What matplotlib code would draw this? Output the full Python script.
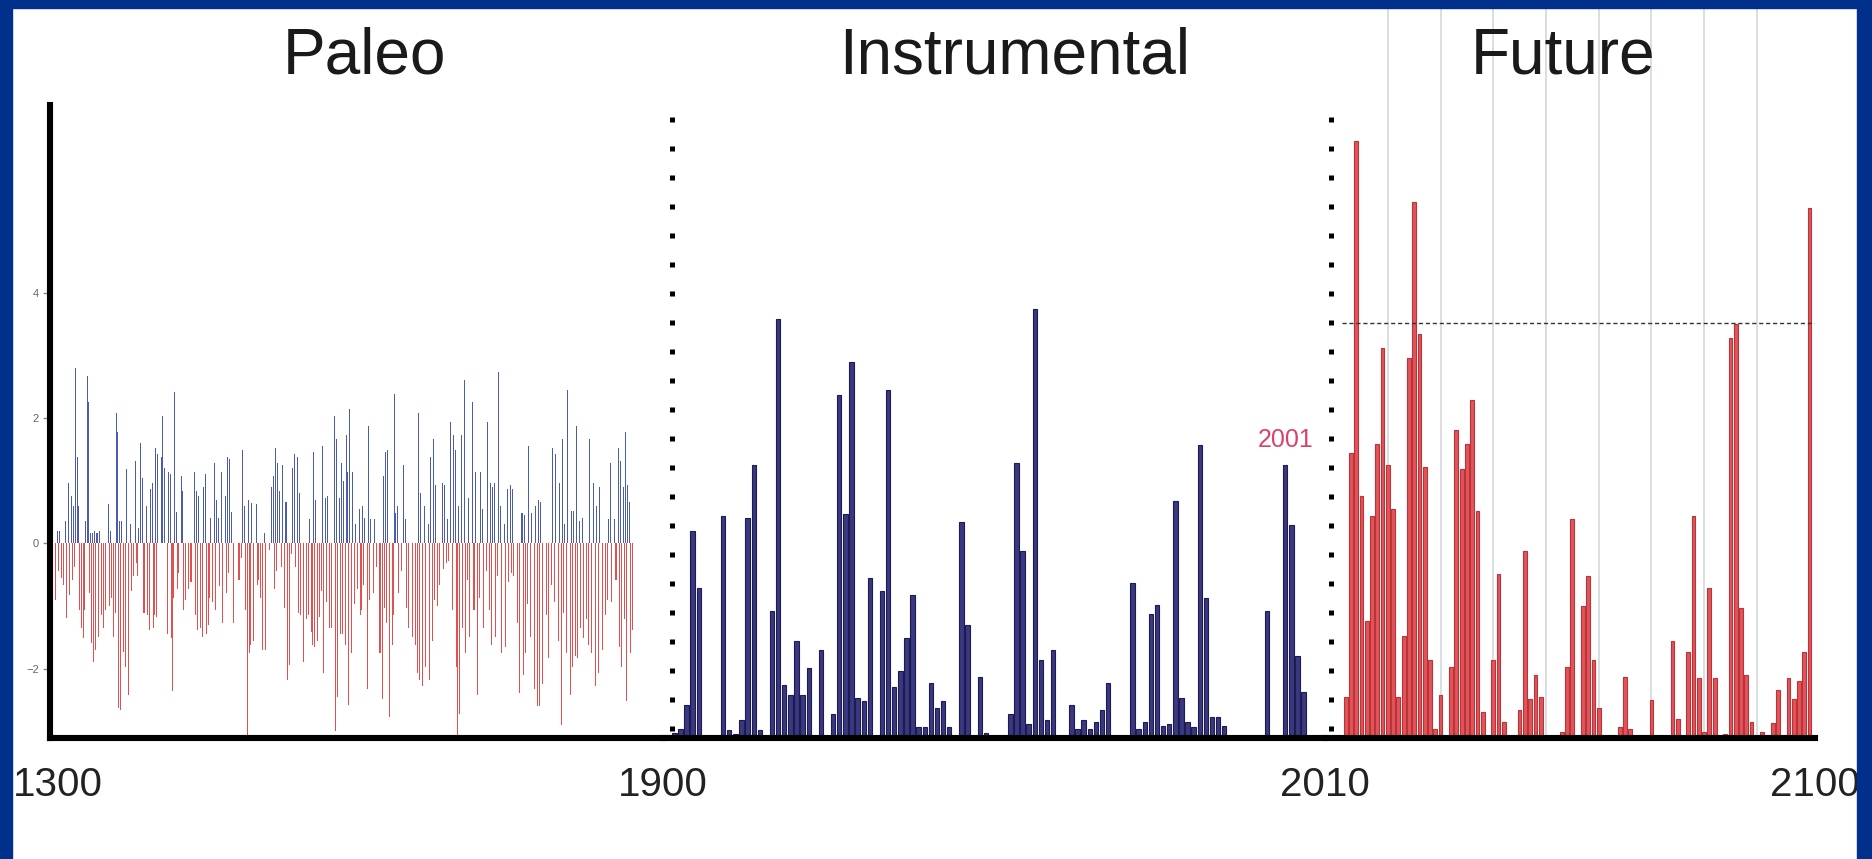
import matplotlib
matplotlib.use("Agg")
import matplotlib.pyplot as plt
import matplotlib.transforms as mtransforms
from matplotlib import font_manager
from matplotlib.patches import Rectangle

plt.rcParams['font.family'] = ['Liberation Sans', 'DejaVu Sans']

# narrow face for the year labels if it is there
_names = {f.name for f in font_manager.fontManager.ttflist}
if 'Liberation Sans Narrow' in _names:
    year_font, year_size = 'Liberation Sans Narrow', 34
else:
    year_font, year_size = 'Liberation Sans', 29

# ---- data ----
# paleo reconstruction 1300-1900 (positive = blue, negative = red)
warm_years = [1307,1309,1315,1318,1321,1323,1325,1327,1328,1335,
              1337,1338,1340,1342,1344,1346,1348,1357,1359,1365,
              1366,1368,1370,1375,1379,1384,1387,1389,1391,1394,
              1398,1400,1403,1405,1409,1410,1412,1416,1418,1422,
              1424,1429,1430,1441,1443,1445,1450,1452,1457,1461,
              1463,1465,1468,1472,1474,1476,1478,1488,1490,1494,
              1497,1502,1510,1517,1519,1521,1523,1525,1528,1531,
              1537,1539,1542,1544,1554,1558,1560,1567,1570,1572,
              1578,1580,1583,1585,1587,1590,1591,1593,1596,1599,
              1603,1606,1608,1612,1614,1618,1626,1628,1630,1637,
              1638,1640,1646,1648,1661,1663,1667,1670,1672,1675,
              1677,1684,1686,1689,1692,1695,1697,1700,1703,1706,
              1710,1714,1716,1721,1723,1728,1731,1733,1735,1739,
              1741,1745,1748,1751,1753,1762,1764,1768,1771,1775,
              1778,1780,1792,1795,1799,1802,1804,1807,1810,1812,
              1815,1818,1821,1828,1832,1835,1838,1847,1849,1853,
              1856,1858,1861,1863,1865,1867]
warm_vals = [0.2,0.2,0.35,0.97,0.76,0.6,2.8,1.38,0.6,0.35,
             2.67,2.25,0.17,0.17,0.2,0.17,0.2,0.62,0.2,2.08,
             1.77,0.35,0.35,1.18,0.3,1.31,0.25,1.6,1.04,0.6,
             0.86,0.97,1.52,1.42,1.38,2.04,1.21,1.14,1.11,2.42,
             0.5,1.07,0.83,1.14,0.83,0.76,0.9,1.11,0.4,1.28,
             0.69,0.4,1.14,0.76,1.38,1.35,0.5,1.49,0.6,0.69,
             0.65,0.62,0.17,0.9,1.07,1.52,1.28,0.83,1.25,0.66,
             1.21,1.42,1.38,0.8,0.38,1.45,0.69,1.56,0.73,0.76,
             2.04,1.66,0.73,1.28,1.0,1.73,1.14,2.14,1.14,0.3,
             0.55,0.6,0.4,1.87,0.38,0.38,1.07,1.45,1.49,2.39,
             0.48,0.6,1.25,0.38,2.08,0.8,0.6,0.3,1.38,1.66,
             0.93,0.97,0.93,0.38,1.94,1.73,1.49,0.6,1.73,2.6,
             0.73,2.25,1.14,1.14,0.55,1.94,0.97,0.9,0.97,2.73,
             0.6,0.3,0.86,0.93,0.86,0.48,0.45,1.56,0.48,0.6,
             0.69,0.66,1.52,1.42,0.97,1.66,0.3,2.45,0.52,0.52,
             1.87,0.35,0.4,1.66,0.97,0.6,0.9,0.38,1.28,0.38,
             1.52,1.31,0.9,1.77,0.93,0.66]

cold_years = [1305,1308,1311,1313,1316,1319,1322,1324,1329,1331,
              1333,1334,1339,1341,1343,1345,1347,1350,1352,1354,
              1358,1360,1362,1364,1367,1369,1372,1374,1377,1380,
              1382,1385,1386,1392,1395,1397,1401,1402,1404,1415,
              1419,1420,1421,1425,1426,1431,1433,1436,1438,1442,
              1444,1447,1449,1453,1455,1456,1459,1462,1466,1469,
              1473,1475,1480,1485,1487,1491,1493,1495,1496,1499,
              1503,1504,1506,1508,1511,1515,1520,1522,1527,1530,
              1532,1534,1536,1540,1543,1545,1548,1551,1553,1556,
              1557,1559,1562,1564,1566,1568,1571,1574,1576,1579,
              1581,1584,1586,1589,1592,1595,1598,1601,1604,1605,
              1607,1611,1613,1617,1620,1623,1625,1627,1629,1632,
              1635,1636,1641,1644,1649,1651,1655,1658,1660,1662,
              1665,1668,1671,1674,1676,1679,1681,1685,1688,1690,
              1694,1698,1699,1701,1704,1707,1709,1711,1715,1718,
              1720,1724,1727,1730,1732,1736,1738,1742,1746,1749,
              1752,1754,1758,1760,1763,1765,1767,1770,1774,1777,
              1779,1782,1786,1788,1791,1794,1798,1801,1803,1806,
              1809,1811,1814,1816,1819,1822,1825,1827,1830,1834,
              1837,1841,1844,1846,1850,1854,1857,1859,1862,1864,
              1868,1870]
cold_vals = [-0.9,-0.45,-0.55,-0.66,-1.2,-0.83,-0.59,-0.38,-1.07,-1.35,
             -1.52,-1.07,-0.8,-1.6,-1.9,-1.7,-1.49,-1.14,-1.35,-1.07,
             -1.0,-0.87,-1.49,-1.11,-2.63,-2.66,-1.73,-1.97,-2.42,-0.76,
             -0.52,-0.31,-0.52,-1.11,-1.14,-1.38,-1.35,-1.14,-1.18,-1.45,
             -1.52,-2.36,-0.87,-0.73,-0.48,-1.07,-0.9,-0.73,-0.62,-1.14,
             -1.38,-1.35,-1.49,-1.45,-1.31,-0.87,-0.93,-1.07,-0.69,-1.28,
             -0.8,-0.48,-1.28,-0.59,-0.24,-1.07,-3.1,-1.76,-1.63,-1.56,
             -0.66,-0.59,-0.87,-1.7,-1.7,-0.1,-0.73,-0.45,-0.38,-1.04,
             -2.18,-1.94,-0.17,-0.38,-1.11,-1.14,-1.9,-1.21,-1.14,-1.42,
             -1.63,-1.66,-1.56,-1.18,-0.76,-2.07,-0.93,-1.35,-1.35,-3.0,
             -2.46,-1.45,-1.45,-1.63,-2.59,-1.76,-0.97,-0.73,-1.14,-1.07,
             -0.66,-2.32,-0.9,-0.8,-0.38,-1.76,-2.49,-1.04,-1.28,-2.77,
             -1.63,-1.14,-0.8,-0.45,-1.04,-1.35,-1.49,-1.63,-2.07,-2.18,
             -2.28,-1.97,-2.18,-1.56,-0.9,-1.0,-0.66,-0.41,-0.31,-0.28,
             -1.07,-1.97,-3.1,-2.73,-1.35,-1.76,-0.59,-1.49,-1.07,-2.42,
             -0.87,-1.35,-0.45,-1.07,-1.63,-1.49,-0.52,-1.76,-1.66,-0.62,
             -0.48,-0.52,-1.28,-2.39,-2.1,-1.76,-0.97,-1.49,-2.32,-2.6,
             -2.6,-2.25,-1.14,-1.83,-0.66,-0.93,-1.56,-2.9,-1.11,-1.76,
             -2.42,-1.97,-1.8,-1.83,-1.35,-1.52,-1.21,-1.63,-1.76,-2.28,
             -2.07,-1.7,-1.14,-0.9,-0.93,-0.59,-1.66,-1.97,-1.21,-2.52,
             -1.76,-1.38]

# instrumental record 1900-2004
instr_years = list(range(1900, 2005))
instr_vals = [0.05,0.08,0.15,0.53,3.30,2.40,0,0,0,3.54,
              0.12,0.07,0.29,3.51,4.35,0.12,0,2.02,6.69,0.84,
              0.68,1.54,0.68,1.11,0,1.40,0,0.39,5.48,3.58,
              6.00,0.64,0.59,2.55,0,2.35,5.55,0.81,1.07,1.60,
              2.28,0.17,0.17,0.88,0.48,0.59,0.17,0,3.44,1.80,
              0,0.98,0.08,0,0,0,0.39,4.39,2.99,0.22,
              6.85,1.24,0.29,1.40,0,0,0.53,0.15,0.29,0.15,
              0.26,0.45,0.88,0,0,0,2.47,0.15,0.26,1.98,
              2.12,0.19,0.22,3.78,0.64,0.26,0.17,4.68,2.23,0.33,
              0.34,0.19,0,0,0,0,0,0,2.02,0,
              0,4.35,3.40,1.31,0.74]

# projection 2012-2100
future_years = list(range(2012, 2101))
future_vals = [0.66,4.54,9.53,3.86,1.87,3.55,4.69,6.23,4.36,3.65,
               0.66,1.63,6.06,8.56,6.44,4.32,1.24,0.15,0.69,0,
               1.14,4.91,4.29,4.69,5.39,3.62,0.41,0,1.24,2.61,
               0.26,0,0,0.45,2.99,0.62,1.00,0.66,0,0,
               0,0.10,1.14,3.49,0,2.11,2.58,1.24,0.48,0,
               0,0,0.17,0.97,0.14,0,0,0,0.61,0,
               0,0,1.54,0.31,0,1.38,3.55,0.95,0.10,2.39,
               0.95,0,0.07,6.38,6.60,2.07,1.00,0.26,0,0.10,
               0,0.24,0.76,0,0.95,0.62,0.91,1.38,8.45]

threshold = 6.62
decades = list(range(2020, 2100, 10))
titles = ['Paleo', 'Instrumental', 'Future']

# ---- layout (pixel based, 1872 x 859) ----
W, H = 1872, 859
fig = plt.figure(figsize=(W / 100, H / 100), dpi=100)
fig.patch.set_facecolor('white')

def fx(p):
    return p / W

def fy(p):
    return 1 - p / H

y0, y1 = 738, 105
hgt = (y0 - y1) / H
ax1 = fig.add_axes([fx(50), fy(y0), fx(613), hgt])
ax2 = fig.add_axes([fx(663), fy(y0), fx(662), hgt])
ax3 = fig.add_axes([fx(1325), fy(y0), fx(490), hgt])

for ax in (ax1, ax2, ax3):
    ax.patch.set_alpha(0)
    for s in ('top', 'right', 'left'):
        ax.spines[s].set_visible(False)
    ax.spines['bottom'].set_linewidth(4.4)
    ax.spines['bottom'].set_capstyle('projecting')
    ax.tick_params(axis='x', length=0, pad=20, labelsize=year_size,
                   labelcolor='#222222')

# paleo
ax1.bar(warm_years, warm_vals, width=1.0, color='#4a5caa', lw=0)
ax1.bar(cold_years, cold_vals, width=1.0, color='#e2504f', lw=0)
ax1.set_xlim(1300, 1900)
ax1.set_ylim(-3.11, 7.0)
ax1.spines['left'].set_visible(True)
ax1.spines['left'].set_linewidth(4.4)
ax1.spines['left'].set_capstyle('projecting')
ax1.set_yticks([-2, 0, 2, 4])
ax1.tick_params(axis='y', length=5, width=1, color='#888888', labelsize=8,
                labelcolor='#666666', pad=3)
ax1.set_xticks([1300, 1900], ['1300', '1900'])

# instrumental
ax2.bar(instr_years, instr_vals, width=0.72, color='#393880',
        edgecolor='#1d1c50', lw=0.8)
ax2.set_xlim(1899.15, 2007.5)
ax2.set_ylim(0, 10.1)
ax2.set_yticks([])
ax2.set_xticks([ax2.get_xlim()[1]], ['2010'])
i01 = instr_years.index(2001)
ax2.text(2001, instr_vals[i01] + 0.22, '2001', color='#d8436c', fontsize=18,
         ha='center', va='bottom')

# future
for d in decades:
    ax3.axvline(d, ymin=0, ymax=(y0 - 8) / (y0 - y1), color='#d4d8dc',
                lw=1.2, zorder=0, clip_on=False)
ax3.bar(future_years, future_vals, width=0.72, color='#e4535a',
        edgecolor='#b83438', lw=0.8, zorder=2)
ax3.set_xlim(2008.09, 2101.03)
ax3.set_ylim(0, 10.1)
ax3.set_yticks([])
ax3.set_xticks([ax3.get_xlim()[1]], ['2100'])
ax3.axhline(threshold, xmin=0.035, xmax=1.0, color='#333333', lw=1.0,
            ls=(0, (3, 2)), zorder=3)

for ax in (ax1, ax2, ax3):
    for lab in ax.get_xticklabels():
        lab.set_family([year_font, 'DejaVu Sans'])

# nudge "1300" so it clears the frame, like the original
lab0 = ax1.get_xticklabels()[0]
lab0.set_transform(lab0.get_transform() +
                   mtransforms.ScaledTranslation(8 / 100, 0, fig.dpi_scale_trans))

# dotted separators
for ax, xf in ((ax2, 0.0143), (ax3, 0.0122)):
    ax.plot([xf, xf], [0.981, 0.0], transform=ax.transAxes, color='black',
            lw=3.6, ls=(0, (1, 4.8)), dash_capstyle='butt', clip_on=False,
            zorder=4)

# titles
for t, px in zip(titles, (365, 1015, 1563)):
    fig.text(fx(px), fy(74), t, fontsize=46, ha='center', va='baseline',
             color='#1a1a1a')

# blue frame
frame = '#00308c'
fig.add_artist(Rectangle((0, 0), fx(12), 1, transform=fig.transFigure,
                         color=frame, zorder=20))
fig.add_artist(Rectangle((fx(1857), 0), 1 - fx(1857), 1,
                         transform=fig.transFigure, color=frame, zorder=20))
fig.add_artist(Rectangle((0, fy(8)), 1, 8 / H, transform=fig.transFigure,
                         color=frame, zorder=20))

fig.savefig('out.png', dpi=100)
